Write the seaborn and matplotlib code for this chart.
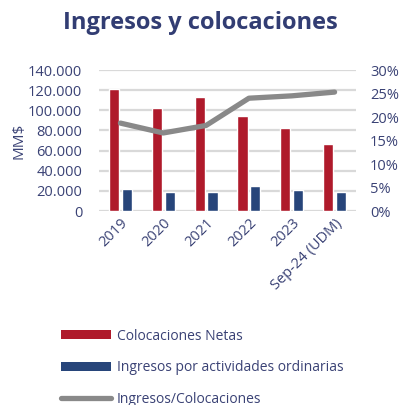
import matplotlib.pyplot as plt
import matplotlib.ticker as mticker
from matplotlib.lines import Line2D
from matplotlib.patches import Patch
import seaborn as sns
import pandas as pd
import numpy as np

categories = ["2019", "2020", "2021", "2022", "2023", "Sep-24 (UDM)"]
colocaciones = [121400, 102500, 113000, 94200, 82300, 67000]
ingresos = [21600, 18900, 18900, 24600, 21300, 18900]
ratio = [18.7, 16.6, 18.2, 24.0, 24.5, 25.3]

red = "#AF1A2B"
blue = "#27457A"
gray = "#898989"
navy = "#3A4275"

sns.set_theme(style="white")
plt.rcParams["font.family"] = ["Open Sans", "DejaVu Sans"]

df = pd.DataFrame({
    "Periodo": categories * 2,
    "Serie": ["Colocaciones Netas"] * 6 + ["Ingresos por actividades ordinarias"] * 6,
    "Valor": colocaciones + ingresos,
})

fig = plt.figure(figsize=(4.0, 4.05), dpi=100)
ax = fig.add_axes([99 / 400, 1 - 211 / 405, 257 / 400, 141 / 405])

sns.barplot(data=df, x="Periodo", y="Valor", hue="Serie",
            palette=[red, blue], width=0.6, gap=0.2, ax=ax, legend=False,
            saturation=1)

ax.set_ylim(0, 140000)
ax.set_yticks(np.arange(0, 140001, 20000))
ax.yaxis.set_major_formatter(mticker.FuncFormatter(
    lambda v, p: "0" if v == 0 else f"{int(v):,}".replace(",", ".")))
ax.grid(axis="y", color="#D9D9D9", linewidth=1.6)
ax.set_axisbelow(True)
for s in ax.spines.values():
    s.set_visible(False)
ax.set_xlabel("")
ax.set_ylabel("MM$", color=navy, fontsize=11, labelpad=1)
ax.tick_params(axis="both", length=0, colors=navy, labelsize=10.5)
ax.tick_params(axis="y", pad=12)
ax.set_xlim(-0.5, 5.5)
plt.setp(ax.get_xticklabels(), rotation=45, ha="right", rotation_mode="anchor")

ax2 = ax.twinx()
sns.lineplot(x=np.arange(len(categories)), y=ratio, color=gray,
             linewidth=3.8, ax=ax2, solid_capstyle="round")
ax2.set_ylim(0, 30)
ax2.set_yticks(np.arange(0, 31, 5))
ax2.yaxis.set_major_formatter(mticker.FuncFormatter(lambda v, p: f"{int(v)}%"))
ax2.tick_params(axis="y", length=0, colors=navy, labelsize=10.5, pad=10)
for s in ax2.spines.values():
    s.set_visible(False)
ax2.grid(False)

fig.text(0.5, 0.943, "Ingresos y colocaciones", ha="center", va="center",
         fontsize=17, fontweight="bold", color="#323D73")

handles = [
    Patch(facecolor=red, edgecolor="none"),
    Patch(facecolor=blue, edgecolor="none"),
    Line2D([0], [0], color=gray, linewidth=3.8, solid_capstyle="round"),
]
labels = ["Colocaciones Netas", "Ingresos por actividades ordinarias",
          "Ingresos/Colocaciones"]
leg = fig.legend(handles, labels, loc="upper left",
                 bbox_to_anchor=(48 / 400, 1 - 316 / 405), frameon=False,
                 handlelength=3.6, handleheight=0.65, handletextpad=0.45,
                 labelspacing=1.2, fontsize=10)
for t in leg.get_texts():
    t.set_color(navy)

fig.savefig("out.png", dpi=100)
